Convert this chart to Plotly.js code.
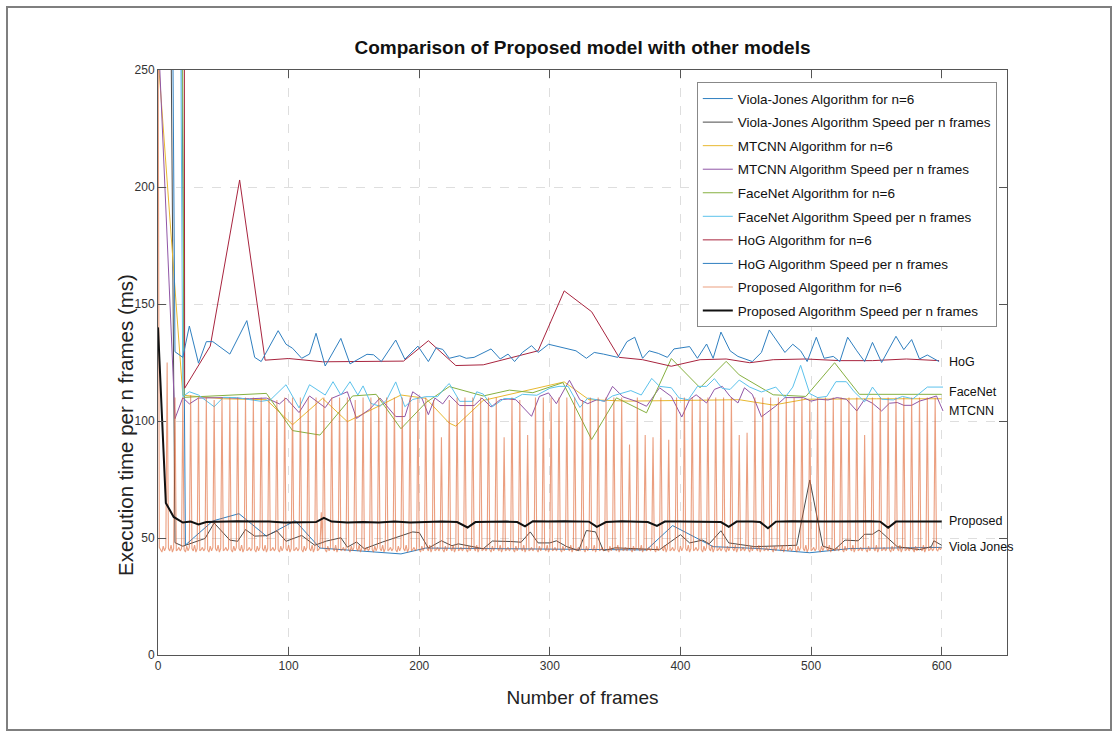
<!DOCTYPE html>
<html>
<head>
<meta charset="utf-8">
<script src="https://cdn.plot.ly/plotly-3.0.1.min.js"></script>
<style>
  html, body { margin: 0; padding: 0; background: #fff; }
  #chart { width: 1117px; height: 736px; position: absolute; left: 0; top: 0; }
  #frame { position: absolute; left: 6px; top: 6px; width: 1102px; height: 721px; border: 2px solid #7f7f7f; pointer-events: none; }
</style>
</head>
<body>
<div id="chart"></div>
<div id="frame"></div>
<script>
// ---------------- data ----------------
const seriesNames = [
  "Viola-Jones Algorithm for n=6",
  "Viola-Jones Algorithm Speed per n frames",
  "MTCNN Algorithm for n=6",
  "MTCNN Algorithm Speed per n frames",
  "FaceNet Algorithm for n=6",
  "FaceNet Algorithm Speed per n frames",
  "HoG Algorithm for n=6",
  "HoG Algorithm Speed per n frames",
  "Proposed Algorithm for n=6",
  "Proposed Algorithm Speed per n frames"
];

const vjN6X = [13, 21, 42, 62, 83, 105, 124, 186, 205, 260, 320, 374, 394, 425, 460, 499, 530, 570, 600];
const vjN6Y = [670, 47, 57.3, 60.4, 50.8, 57.4, 45.7, 43.2, 45.7, 45.5, 45.3, 44.9, 55.3, 46.3, 45.5, 43.7, 45.5, 45.8, 46];

const vjSpX = [7, 13, 19, 36, 43, 55, 61, 67, 74, 83, 91, 98, 110, 120, 129, 140, 145, 152, 158, 172, 195, 200, 207, 217, 225, 230, 249, 256, 270, 278, 285, 291, 300, 305, 313, 322, 328, 335, 341, 350, 384, 400, 407, 417, 422, 431, 437, 457, 489, 499, 509, 518, 526, 536, 541, 547, 552, 566, 583, 592, 594, 600];
const vjSpY = [480, 48, 46.5, 49.8, 56.4, 49.1, 48.6, 53.6, 50.8, 51, 53, 48.6, 51.1, 46.9, 48.7, 50.1, 46.1, 48.3, 45.4, 48.3, 52.6, 52.3, 45.7, 48.8, 46.7, 47.5, 45.4, 48.7, 48.5, 48.2, 52.6, 47.9, 47.9, 48.8, 46.3, 44.6, 53.2, 52.6, 44.6, 45.8, 45, 51.4, 47.9, 49.1, 47.5, 53.1, 47.9, 46.3, 46.9, 74.8, 46.5, 45, 49.1, 48.8, 51.6, 51.6, 53.4, 46.3, 45, 46.3, 48.8, 46.9];

const mtN6X = [0, 19, 50, 83, 103, 126, 145, 186, 205, 223, 228, 249, 311, 330, 360, 400, 445, 471, 496, 550, 600];
const mtN6Y = [256, 111, 109.5, 109.1, 98.4, 109.7, 99.7, 111.1, 109.7, 99.1, 97.8, 108.8, 116.7, 109.1, 108.5, 108.8, 109.1, 106.8, 109.3, 109.5, 109.5];

const mtSpX = [0, 13, 19, 24, 31, 50, 70, 83, 93, 98, 108, 116, 128, 133, 145, 152, 162, 170, 182, 189, 195, 202, 207, 212, 218, 223, 231, 242, 248, 255, 262, 268, 274, 286, 292, 299, 305, 315, 323, 329, 336, 342, 348, 356, 366, 374, 384, 393, 401, 407, 412, 420, 426, 432, 438, 444, 449, 455, 462, 473, 480, 494, 500, 506, 513, 520, 527, 535, 541, 547, 554, 560, 566, 571, 577, 583, 588, 596, 601];
const mtSpY = [268, 101, 110, 107.3, 109.8, 110, 109.5, 109.8, 107.3, 109.8, 103.6, 110.7, 105.7, 109.7, 112.5, 101.1, 105, 109.8, 101.9, 101.9, 112.5, 109.8, 102.7, 109.8, 107.3, 111, 106.6, 106.6, 109.8, 106, 109.1, 109.4, 109.1, 102, 110.5, 112, 107.4, 117.4, 109.1, 107.4, 109.1, 108.4, 114.8, 110.3, 108.4, 106.3, 114.2, 110.5, 101.7, 109.1, 111.2, 107.7, 113.5, 114.8, 110.5, 107.7, 114.2, 111.4, 101.8, 106.4, 110, 110, 108.5, 109.3, 109, 110, 109.3, 104.3, 109.3, 107.6, 104.3, 107.6, 107.9, 106.7, 106.7, 108.5, 109.3, 110.7, 104.3];

const fnN6X = [13, 20, 83, 103, 124, 149, 167, 186, 205, 223, 249, 269, 287, 310, 332, 351, 374, 393, 415, 435, 445, 471, 496, 518, 537, 600];
const fnN6Y = [1000, 110.1, 111.8, 95.9, 94.0, 110.7, 111.4, 96.7, 107.8, 114.7, 110.7, 113.2, 112.1, 116.4, 92.1, 109.9, 103.5, 126.7, 114.2, 125.5, 119.7, 111.2, 110.5, 124.9, 111.4, 111.4];

const fnSpX = [13, 19, 24, 31, 43, 50, 60, 70, 79, 86, 98, 108, 116, 128, 134, 140, 147, 153, 157, 163, 170, 175, 182, 189, 195, 205, 214, 221, 223, 231, 241, 244, 249, 256, 265, 273, 279, 290, 300, 307, 314, 323, 329, 336, 342, 348, 362, 370, 378, 384, 393, 399, 406, 413, 420, 426, 432, 438, 445, 453, 462, 473, 480, 486, 492, 499, 505, 512, 519, 527, 533, 541, 547, 554, 563, 570, 578, 589, 601];
const fnSpY = [700, 110.4, 112.5, 111.1, 106.1, 110.1, 110, 109, 108.4, 109, 115.5, 105.6, 115.5, 111.1, 116.8, 111.1, 116.8, 111.1, 115, 107.5, 106.3, 109, 116.7, 106.1, 109.2, 110.4, 110.4, 115, 116, 108.4, 108.4, 112.5, 111.5, 106.1, 109.6, 109.6, 111.4, 111, 114, 114.8, 114.8, 105.8, 109.8, 109.1, 108.4, 110.7, 113, 111.1, 118.2, 114.8, 114.2, 109.8, 109.1, 114.8, 114.8, 118.1, 113.9, 113.5, 117.5, 114.5, 112.4, 114.5, 110, 114.5, 123.8, 111.7, 110, 110.5, 116.8, 116.8, 112.5, 108.2, 114.5, 109.3, 109, 110.5, 109.5, 114.5, 114.5];

const hogN6X = [1, 20.4, 40, 62.5, 82, 100, 126, 160, 188, 207, 223, 228, 249, 291, 311, 332, 353, 371, 393, 415, 435, 453, 471, 496, 522, 547, 573, 598];
const hogN6Y = [13000, 114, 132, 203, 126, 126.7, 125.3, 125.3, 125.6, 134.3, 126, 123.7, 124, 130, 155.6, 146.7, 127.2, 126.2, 123.4, 126.2, 126.5, 124.9, 126.2, 126.5, 125.8, 125.8, 126.5, 125.8];

const hogSpX = [7, 13, 19, 24, 31, 37, 42, 55, 68, 74, 79, 92, 98, 103, 110, 116, 121, 128, 140, 147, 160, 165, 171, 182, 189, 199, 207, 213, 218, 223, 231, 236, 242, 249, 255, 262, 268, 273, 279, 286, 291, 299, 310, 320, 328, 334, 341, 352, 359, 365, 371, 376, 383, 390, 395, 407, 413, 420, 425, 431, 438, 444, 455, 462, 468, 480, 486, 492, 497, 504, 510, 517, 522, 528, 535, 541, 547, 554, 565, 571, 577, 583, 589, 598];
const hogSpY = [610, 129.6, 127.2, 140.6, 124.7, 133.9, 133.9, 128.6, 142.9, 127.2, 125.4, 138.6, 132.8, 131.1, 126.8, 128.6, 137.5, 123.5, 135.3, 124.4, 128.5, 128.3, 125.4, 134.6, 126.4, 132, 125.4, 131.3, 130.6, 126.8, 127.9, 126.8, 127.2, 129.3, 130.8, 126.5, 128.6, 125.4, 129.3, 132.2, 129.3, 132.8, 131.4, 130, 126.8, 129.3, 128.6, 127.2, 133.9, 135.8, 126.8, 130, 128.9, 127.2, 130.8, 131.8, 126.8, 132.9, 126.8, 138, 130, 127.6, 125.4, 129.3, 138.9, 129.3, 132.8, 130, 125.4, 135.8, 126.8, 127.6, 125.4, 135.8, 130, 125.4, 133.6, 125, 136.2, 130.5, 134.8, 126.5, 128.2, 125.4];

// Proposed Algorithm for n=6: one value per frame, frames 0..600
const propN6Y = [
  300, 46,
  45,44,46.5,44.5,46,125,   45.5,44.5,47,44,45.5,110,   44.5,45,46,44.5,45.5,110,
  45,44,46.5,44.5,46,111,   45.5,44.5,47,44,45.5,110,   44.5,45,46,44.5,45.5,110,
  45,44,46.5,44.5,46,109,   45.5,44.5,47,44,45.5,110,   44.5,45,46,44.5,45.5,110,
  45,44,46.5,44.5,46,110,   45.5,44.5,47,44,45.5,110,   44.5,45,46,44.5,45.5,110,
  45,44,46.5,44.5,46,110,   45.5,44.5,47,44,45.5,110,   44.5,45,46,44.5,45.5,109,
  45,44,46.5,44.5,46,110,   45.5,44.5,47,44,45.5,110,   44.5,45,46,44.5,45.5,110,
  45,44,46.5,44.5,46,110,   45.5,44.5,47,44,45.5,110,   44.5,45,46,61,45.5,110,
  45,44,46.5,44.5,46,110,   45.5,44.5,47,44,45.5,110,   44.5,45,46,44.5,45.5,110,
  45,44,46.5,44.5,46,109,   45.5,44.5,47,44,45.5,110,   44.5,45,46,44.5,45.5,110,
  45,44,46.5,44.5,46,110,   45.5,44.5,47,44,45.5,110,   44.5,45,46,44.5,45.5,110,
  45,44,46.5,44.5,46,110,   45.5,44.5,47,44,45.5,110,   44.5,45,46,44.5,45.5,110,
  45,44,46.5,44.5,46,110,   45.5,44.5,47,44,45.5,109,   44.5,45,46,44.5,45.5,93,
  45,44,46.5,44.5,46,109,   45.5,44.5,47,44,45.5,110,   44.5,45,46,44.5,45.5,110,
  45,44,46.5,44.5,46,110,   45.5,44.5,47,44,45.5,110,   44.5,45,46,44.5,45.5,110,
  45,44,46.5,44.5,46,110,   45.5,44.5,47,44,45.5,93,    44.5,45,46,44.5,45.5,110,
  45,44,46.5,44.5,46,109,   45.5,44.5,47,44,45.5,94,    44.5,45,46,44.5,45.5,110,
  45,44,46.5,44.5,46,110,   45.5,44.5,47,44,45.5,110,   44.5,45,46,44.5,45.5,110,
  45,44,46.5,44.5,46,110,   45.5,44.5,47,44,45.5,110,   44.5,45,46,44.5,45.5,109,
  45,44,46.5,44.5,46,110,   45.5,44.5,47,44,45.5,110,   44.5,45,46,44.5,45.5,110,
  45,44,46.5,44.5,46,110,   45.5,44.5,47,44,45.5,110,   44.5,45,46,44.5,45.5,90,
  45,44,46.5,44.5,46,110,   45.5,44.5,47,44,45.5,94,    44.5,45,46,44.5,45.5,93,
  45,44,46.5,44.5,46,110,   45.5,44.5,47,44,45.5,92,    44.5,45,46,44.5,45.5,110,
  45,44,46.5,44.5,46,110,   45.5,44.5,47,44,45.5,110,   44.5,45,46,44.5,45.5,110,
  45,44,46.5,44.5,46,110,   45.5,44.5,47,44,45.5,110,   44.5,45,46,44.5,45.5,110,
  45,44,46.5,44.5,46,110,   45.5,44.5,47,44,45.5,94,    44.5,45,46,44.5,45.5,95,
  45,44,46.5,44.5,46,110,   45.5,44.5,47,44,45.5,110,   44.5,45,46,44.5,45.5,110,
  45,44,46.5,44.5,46,110,   45.5,44.5,47,44,45.5,110,   44.5,45,46,44.5,45.5,110,
  45,44,46.5,44.5,46,110,   45.5,44.5,47,44,45.5,109,   44.5,45,46,44.5,45.5,110,
  45,44,46.5,44.5,46,110,   45.5,44.5,47,44,45.5,110,   44.5,45,46,44.5,45.5,110,
  45,44,46.5,44.5,46,110,   45.5,44.5,47,44,45.5,110,   44.5,45,46,44.5,45.5,94,
  45,44,46.5,44.5,46,110,   45.5,44.5,47,44,45.5,110,   44.5,45,46,44.5,45.5,110,
  45,44,46.5,44.5,46,110,   45.5,44.5,47,44,45.5,110,   44.5,45,46,44.5,45.5,110,
  45,44,46.5,44.5,46,110,   45.5,44.5,47,44,45.5,110,   44.5,45,46,44.5,45.5,110,
  45,44.5,46,45,46
];

const propSpX = [0, 6, 12, 19, 25, 31, 37, 49, 61, 73, 85, 97, 109, 121, 127, 133, 145, 157, 169, 181, 193, 205, 217, 229, 237, 243, 255, 267, 275, 281, 287, 299, 311, 323, 330, 336, 343, 355, 367, 375, 382, 388, 400, 412, 424, 431, 437, 443, 455, 461, 467, 473, 485, 497, 509, 521, 533, 545, 553, 559, 565, 577, 589, 600];
const propSpY = [140, 65, 59, 56.6, 57, 55.8, 56.8, 57, 57.2, 57, 57, 56.6, 56.6, 56.8, 58.6, 57, 56.6, 56.8, 56.6, 57, 56.6, 56.8, 57, 56.8, 54.5, 56.8, 57, 57, 56.8, 55, 57.2, 57, 57.2, 57, 57, 54.8, 56.8, 57.2, 57, 56.8, 55.2, 57, 57, 57, 56.8, 56.8, 54.8, 57, 57, 56.8, 54.2, 57, 57.2, 57, 57, 57, 57.2, 57.2, 57, 54.4, 57, 57, 57, 57];

const endLabels = ["HoG", "FaceNet", "MTCNN", "Proposed", "Viola Jones"];
const endLabelY = [125.4, 112.4, 104.4, 57.2, 46.2];

const xTicks = [0, 100, 200, 300, 400, 500, 600];
const yTicks = [0, 50, 100, 150, 200, 250];

// ---------------- chart ----------------
const propN6X = propN6Y.map((_, i) => i);
const colors = ["#2F7FC0", "#4a4a4a", "#E8B830", "#9056A6", "#86B040", "#5CC2EC", "#A8243E", "#2F7FC0", "rgba(222,100,50,0.62)", "#111111"];
const widths = [1, 1, 1, 1, 1, 1, 1, 1, 1.1, 2];
const xs = [vjN6X, vjSpX, mtN6X, mtSpX, fnN6X, fnSpX, hogN6X, hogSpX, propN6X, propSpX];
const ys = [vjN6Y, vjSpY, mtN6Y, mtSpY, fnN6Y, fnSpY, hogN6Y, hogSpY, propN6Y, propSpY];

const traces = seriesNames.map((name, i) => ({
  type: "scatter",
  mode: "lines",
  name: name,
  legendgroup: "g" + i,
  x: xs[i],
  y: ys[i],
  line: { color: colors[i], width: widths[i] },
  hoverinfo: "skip"
}));

const sans = "'Liberation Sans', Arial, sans-serif";

const annotations = endLabels.map((t, i) => ({
  x: 604, y: endLabelY[i], xref: "x", yref: "y",
  text: t, showarrow: false, xanchor: "left", yanchor: "middle",
  font: { family: sans, size: 12.5, color: "#111" }
}));
annotations.push({
  x: -0.039, y: 0.393, xref: "paper", yref: "paper",
  text: "Execution time per n frames (ms)", textangle: -90,
  showarrow: false, xanchor: "center", yanchor: "middle",
  font: { family: sans, size: 20.5, color: "#222" }
});

const axisCommon = {
  showline: true, linecolor: "#555", linewidth: 1, mirror: "ticks",
  ticks: "inside", ticklen: 8, tickcolor: "#555", tickwidth: 1,
  showgrid: true, gridcolor: "#dedede", griddash: "dash", gridwidth: 1,
  zeroline: false, tickfont: { family: sans, size: 12, color: "#333" }
};

const layout = {
  width: 1117, height: 736,
  margin: { l: 158, r: 110, t: 70, b: 81 },
  paper_bgcolor: "#fff", plot_bgcolor: "#fff",
  title: {
    text: "<b>Comparison of Proposed model with other models</b>",
    font: { family: sans, size: 19, color: "#111" },
    x: 0.5215, xanchor: "center", y: 0.936, yanchor: "middle"
  },
  xaxis: Object.assign({}, axisCommon, {
    range: [0, 650], tickmode: "array", tickvals: xTicks,
    title: { text: "Number of frames", font: { family: sans, size: 19, color: "#222" }, standoff: 18 }
  }),
  yaxis: Object.assign({}, axisCommon, {
    range: [0, 250], tickmode: "array", tickvals: yTicks
  }),
  showlegend: true,
  legend: {
    x: 0.988, xanchor: "right", y: 0.979, yanchor: "top",
    bgcolor: "#fff", bordercolor: "#888", borderwidth: 1,
    font: { family: sans, size: 13.5, color: "#111" },
    tracegroupgap: 3, itemwidth: 30, traceorder: "grouped"
  },
  annotations: annotations
};

Plotly.newPlot("chart", traces, layout, { displayModeBar: false, staticPlot: true });
</script>
</body>
</html>
